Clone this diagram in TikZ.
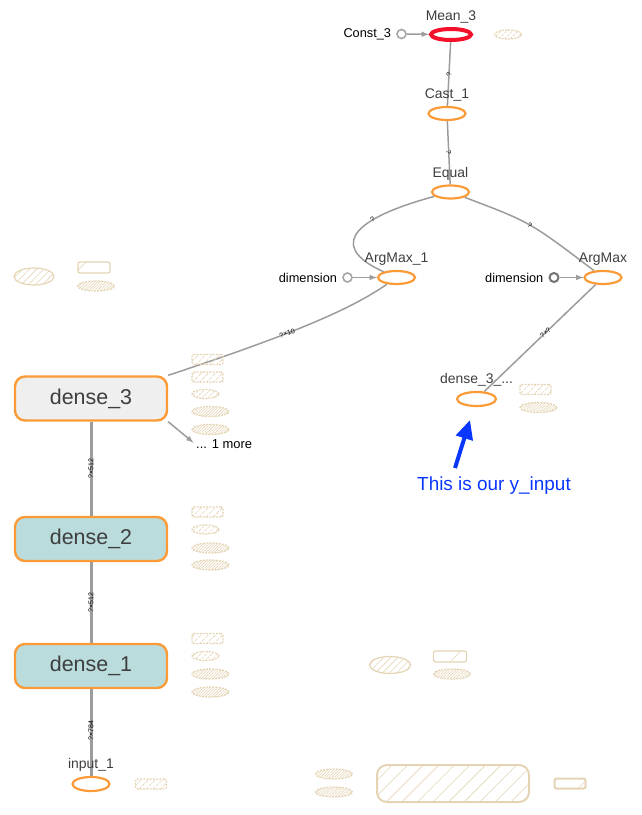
\documentclass[tikz,border=0pt]{standalone}
\usepackage{fontspec}
\setmainfont{Liberation Sans}
\usetikzlibrary{shapes.geometric,patterns.meta,arrows.meta,backgrounds}
\definecolor{tbOrange}{HTML}{FA9B38}
\definecolor{tbRed}{HTML}{F2102A}
\definecolor{tbTeal}{HTML}{BADCDC}
\definecolor{tbGrey}{HTML}{EFEFEF}
\definecolor{tbEdge}{HTML}{9C9C9C}
\definecolor{tbTan}{HTML}{E4D4B4}
\definecolor{tbBlue}{HTML}{0A37FF}
\definecolor{tbText}{HTML}{3E3E3E}
\begin{document}
\begin{tikzpicture}[x=1bp, y=-1bp, >=latex,
    op/.style={ellipse, draw=tbOrange, line width=2.2bp, minimum width=37bp, minimum height=13bp, inner sep=0pt},
    opname/.style={label={[font=\fontsize{14}{16}\selectfont, text=tbText, inner sep=1bp, label distance=3bp]above:#1}},
    const/.style={circle, draw=#1, line width=1.6bp, minimum size=9bp, inner sep=0pt},
    layer/.style={rounded corners=10bp, draw=tbOrange, line width=2.4bp, fill=#1, minimum width=152bp, minimum height=44bp, font=\fontsize{21.5}{24}\selectfont, text=tbText},
    small/.style={font=\fontsize{12.8}{14}\selectfont, inner sep=1bp},
    side/.style={label={[small, label distance=4bp]left:#1}},
    edge/.style={draw=tbEdge, line width=1.5bp},
    fat/.style={draw=tbEdge, line width=3bp},
    shp/.style={font=\fontsize{7}{7}\selectfont, inner sep=0.5bp},
    hatch/.style={draw=tbTan, line width=1.2bp, inner sep=0pt, pattern={Lines[angle=45,distance=#1,line width=0.6bp]}, pattern color=tbTan},
    dhatch/.style={hatch=#1, dash pattern=on 2bp off 1.2bp},
    auxrect/.style={dhatch=5bp, rounded corners=2bp, minimum width=31bp, minimum height=10bp},
    auxsmall/.style={dhatch=4bp, ellipse, minimum width=27bp, minimum height=9bp},
    auxdense/.style={dhatch=2bp, ellipse, minimum width=37bp, minimum height=10bp},
    ]
\useasboundingbox (0,0) rectangle (642,815);

\node[op, draw=tbRed, line width=4bp, minimum width=40bp, minimum height=11bp, opname=Mean\_3] (mean) at (451,34.5) {};
\node[const=black!35, side=Const\_3] (c3) at (401.5,34) {};
\node[op, opname=Cast\_1] (cast) at (447,113.5) {};
\node[op, opname=Equal] (eq) at (450.5,192) {};
\node[op, opname=ArgMax\_1] (am1) at (396.5,277.5) {};
\node[const=black!35, side=dimension] (dim1) at (347.5,277.5) {};
\node[op, opname=ArgMax] (am) at (603,277.5) {};
\node[const=black!55, line width=2bp, side=dimension] (dim2) at (554,277.5) {};
\node[op, minimum width=39bp, minimum height=14bp, opname=dense\_3\_...] (d3y) at (476.5,399) {};

\node[layer=tbGrey] (d3) at (91,398.5) {dense\_3};
\node[layer=tbTeal] (d2) at (91,539) {dense\_2};
\node[layer=tbTeal] (d1) at (91,666) {dense\_1};
\node[op, minimum width=37bp, minimum height=14bp, opname=input\_1] (inp) at (91,784) {};
\node[small, font=\fontsize{13}{14}\selectfont, anchor=west] (more) at (195,444) {... 1 more};

\node[text=tbBlue, font=\fontsize{19}{21}\selectfont] (ytxt) at (494,486) {This is our y\_input};
\coordinate (ytail) at (455,468);
\coordinate (yhead) at (470,420);

\begin{scope}[on background layer]
\draw[edge,->] (c3) -- (mean);
\draw[edge,->] (dim1) -- (am1);
\draw[edge,->] (dim2) -- (am);
\draw[edge] (mean) -- node[shp, sloped]{?} (cast);
\draw[edge] (cast) -- node[shp, sloped]{?} (eq);
\draw[edge] (eq) .. controls (340,222) and (335,250) .. node[shp, sloped, pos=0.3]{?} (am1);
\draw[edge] (eq) .. controls (530,222) .. node[shp, sloped]{?} (am);
\draw[edge] (am1) .. controls (350,310) and (290,335) .. node[shp, sloped, pos=0.6]{?×10} (d3.north east);
\draw[edge] (am) -- node[shp, sloped, pos=0.45]{?×?} (d3y);
\draw[fat] (d3) -- node[shp, rotate=90]{?×512} (d2);
\draw[fat] (d2) -- node[shp, rotate=90]{?×512} (d1);
\draw[fat] (d1) -- node[shp, rotate=90, pos=0.48]{?×784} (inp);
\draw[edge,->, shorten >=2bp] (d3.south east) -- (more.west);
\end{scope}
\draw[tbBlue, line width=4bp, -{Triangle[length=19bp,width=17bp]}] (ytail) -- (yhead);

\node[dhatch=4bp, ellipse, minimum width=27bp, minimum height=9bp] (m3aux) at (508,34.5) {};
\node[hatch=5bp, ellipse, minimum width=40bp, minimum height=17bp] (tla) at (34,276.5) {};
\node[hatch=30bp, rounded corners=2bp, minimum width=32bp, minimum height=11bp] (tlb) at (94,267.5) {};
\node[auxdense] (tlc) at (96,286) {};
\node[auxrect] (yaux1) at (535.5,389.5) {};
\node[auxdense] (yaux2) at (538.5,407.5) {};
\foreach \yy/\xx/\kind [count=\i] in {359.5/207.5/auxrect, 377/207.5/auxrect, 394/205.5/auxsmall, 411.5/210.5/auxdense, 429.5/210.5/auxdense}
  \node[\kind] (d3aux\i) at (\xx,\yy) {};
\foreach \yy/\xx/\kind [count=\i] in {512/207.5/auxrect, 529.5/205.5/auxsmall, 548/210.5/auxdense, 565/210.5/auxdense}
  \node[\kind] (d2aux\i) at (\xx,\yy) {};
\foreach \yy/\xx/\kind [count=\i] in {638.5/207.5/auxrect, 656/205.5/auxsmall, 674/210.5/auxdense, 692/210.5/auxdense}
  \node[\kind] (d1aux\i) at (\xx,\yy) {};
\node[auxrect] (inaux) at (151,784) {};
\node[hatch=5bp, ellipse, minimum width=41bp, minimum height=17bp] (bra) at (390,665) {};
\node[hatch=30bp, rounded corners=2bp, minimum width=33bp, minimum height=11bp] (brb) at (450,656.5) {};
\node[auxdense] (brc) at (452,674) {};
\node[auxdense] (bla) at (334,774) {};
\node[auxdense] (blb) at (334,792) {};
\node[hatch=11bp, line width=2bp, rounded corners=10bp, minimum width=152bp, minimum height=37bp] (big) at (453,783.5) {};
\node[hatch=30bp, line width=2bp, rounded corners=2bp, minimum width=31bp, minimum height=10bp] (brs) at (570,783.5) {};
\end{tikzpicture}
\end{document}
